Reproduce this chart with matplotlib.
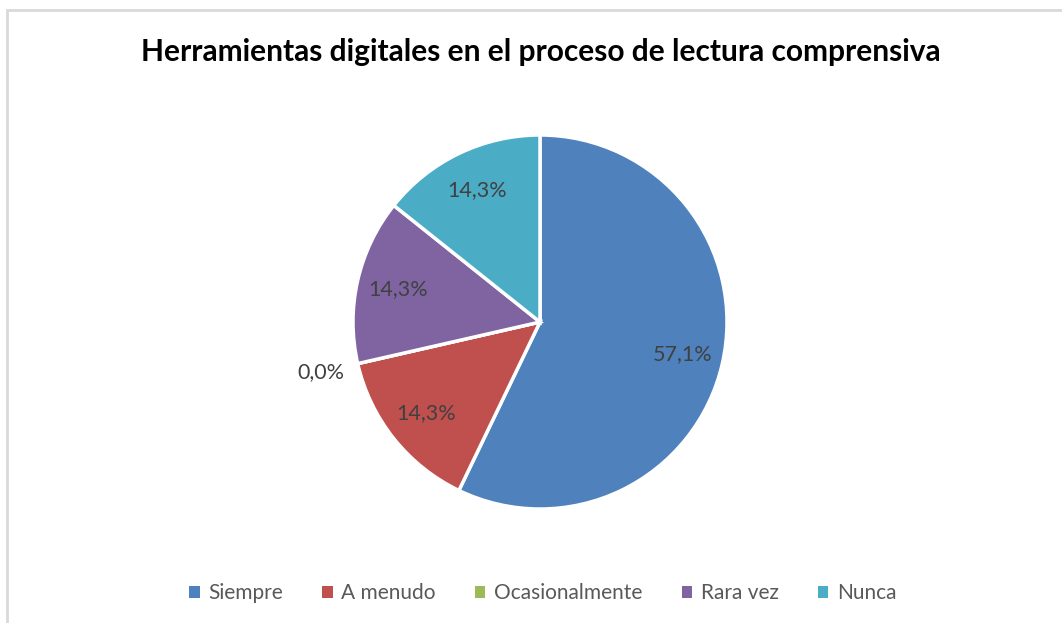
import matplotlib
matplotlib.use('Agg')
import numpy as np
import matplotlib.pyplot as plt
from matplotlib.patches import Rectangle

# chart data
categories = ['Siempre', 'A menudo', 'Ocasionalmente', 'Rara vez', 'Nunca']
counts = [4, 1, 0, 1, 1]
colors = ['#4F81BD', '#C0504D', '#9BBB59', '#8064A2', '#4BACC6']
title = 'Herramientas digitales en el proceso de lectura comprensiva'

plt.rcParams['font.family'] = ['Lato', 'DejaVu Sans']

fig = plt.figure(figsize=(10.62, 6.23), dpi=100)

# outer chart frame (light gray, cut by the right and bottom image edges)
fig.patches.append(Rectangle((6.5 / 1062, -0.1), 1.2, 1.1 - 10.5 / 623,
                             transform=fig.transFigure, fill=False,
                             edgecolor='#D9D9D9', linewidth=2, zorder=0))

ax = fig.add_axes([(540 - 187) / 1062, (623 - 322 - 187) / 623, 374 / 1062, 374 / 623])

def fmt(p):
    return ('%.1f%%' % p).replace('.', ',')

wedges, texts, autotexts = ax.pie(counts, colors=colors, startangle=90, counterclock=False,
                                  autopct=fmt, pctdistance=0.78,
                                  wedgeprops=dict(edgecolor='white', linewidth=2.5),
                                  textprops=dict(color='#404040', fontsize=15.5))
ax.set_xlim(-1, 1)
ax.set_ylim(-1, 1)
ax.set_aspect('equal')

# zero-size slice: put its label outside the pie
for w, t, c in zip(wedges, autotexts, counts):
    if c == 0:
        ang = np.deg2rad(w.theta1)
        t.set_position((1.2 * np.cos(ang), 1.2 * np.sin(ang)))

fig.text(0.509, 1 - 52 / 623, title, ha='center', va='center',
         fontsize=21.5, fontweight='bold', color='black')

handles = [Rectangle((0, 0), 1, 1, facecolor=c) for c in colors]
fig.legend(handles, categories, loc='center', bbox_to_anchor=(0.511, 1 - 593 / 623),
           ncol=5, frameon=False, fontsize=15, labelcolor='#595959',
           handlelength=0.5, handleheight=0.5, handletextpad=0.4, columnspacing=1.9)

fig.savefig('out.png', dpi=100)
